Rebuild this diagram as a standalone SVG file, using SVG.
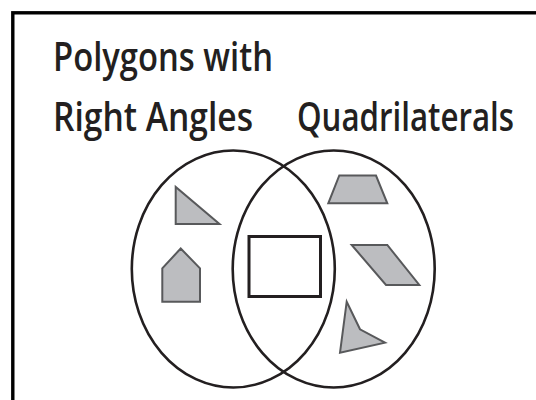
<svg xmlns="http://www.w3.org/2000/svg" width="536" height="400" viewBox="0 0 536 400">
<style>
.lbl{font-family:"Open Sans","Liberation Sans",sans-serif;font-size:40px;font-weight:600;fill:#231f20;}
.set{fill:none;stroke:#231f20;stroke-width:2.6;}
.shape{fill:#bcbdc0;stroke:#58595b;stroke-width:2;stroke-linejoin:miter;}
</style>
<rect x="0" y="0" width="536" height="400" fill="#ffffff"/>
<rect x="12.8" y="12.8" width="600" height="500" fill="none" stroke="#000000" stroke-width="3.4"/>
<g id="labels">
<text class="lbl" x="53" y="71" textLength="220" lengthAdjust="spacingAndGlyphs">Polygons with</text>
<text class="lbl" x="53" y="131" textLength="200" lengthAdjust="spacingAndGlyphs">Right Angles</text>
<text class="lbl" x="297" y="131" textLength="217" lengthAdjust="spacingAndGlyphs">Quadrilaterals</text>
</g>
<g id="set-right-angles"><ellipse class="set" cx="233.3" cy="269" rx="101.5" ry="118.5"/></g>
<g id="set-quadrilaterals"><ellipse class="set" cx="333.7" cy="269" rx="101" ry="118.5"/></g>
<g id="triangle"><polygon class="shape" points="175.7,187 175.7,224 219.5,224"/></g>
<g id="pentagon"><polygon class="shape" points="180.7,248.5 200,268.3 200,301.7 162.3,301.7 162.3,268.3"/></g>
<g id="rectangle"><rect x="249" y="236.5" width="71.5" height="60" fill="#ffffff" stroke="#231f20" stroke-width="3"/></g>
<g id="trapezoid"><polygon class="shape" points="339.3,175.5 376,175.5 387.3,203.3 328.3,203.3"/></g>
<g id="parallelogram"><polygon class="shape" points="351.7,245 387.3,245 419.3,285 386,285"/></g>
<g id="dart"><polygon class="shape" points="346.7,301.7 360,329.3 385,342.7 340,352.7"/></g>
<g id="connectors"></g>
</svg>
